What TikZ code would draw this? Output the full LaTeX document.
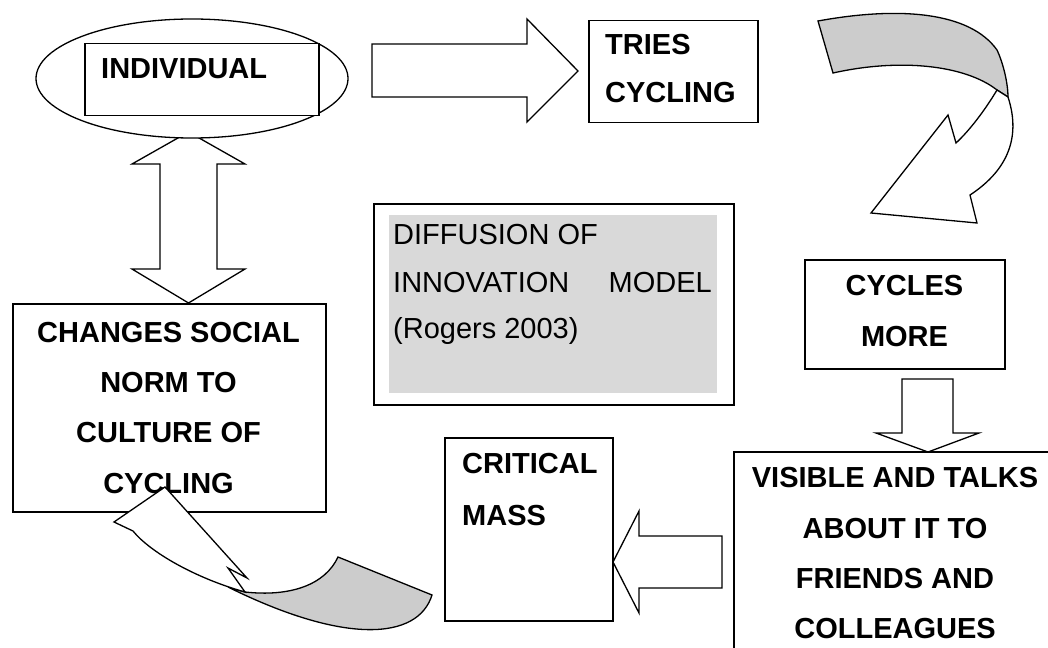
\documentclass[tikz,border=0pt]{standalone}
\usepackage{fontspec}
\setmainfont{Liberation Sans}
\usetikzlibrary{shapes.geometric}
\definecolor{bandgray}{HTML}{CCCCCC}
\definecolor{panelgray}{HTML}{D9D9D9}
\tikzset{
  outl/.style={draw=black, line width=1.5pt, line join=miter},
  box/.style={outl, fill=white, rectangle, inner sep=0pt, anchor=north west},
  blockarrow/.style={draw=black, line width=1.3pt, line join=miter, fill=white},
  band/.style={draw=black, line width=1.3pt, line join=miter, fill=bandgray},
  bt/.style={inner sep=0pt, font=\fontsize{29}{29}\selectfont\bfseries},
  rt/.style={inner sep=0pt, font=\fontsize{29}{29}\selectfont},
}
\begin{document}
\begin{tikzpicture}[x=1pt,y=-1pt]
\useasboundingbox (0,0) rectangle (1048,647);

% double vertical arrow (under the ellipse)
\draw[blockarrow] (188.5,132) -- (245,164) -- (217,164) -- (217,269) -- (245,269)
  -- (188.5,303) -- (132,269) -- (160,269) -- (160,164) -- (132,164) -- cycle;

% ellipse with INDIVIDUAL box
\node[draw=black, line width=1.3pt, fill=white, ellipse, minimum width=312pt, minimum height=119pt, inner sep=0pt] (ell) at (192,78.5) {};
\node[box, minimum width=234pt, minimum height=72pt] (indiv) at (84,43) {};
\node[bt, anchor=base west] (tindiv) at (101,79) {INDIVIDUAL};

% right block arrow
\draw[blockarrow] (372,44) -- (527,44) -- (527,19) -- (578,71) -- (527,122) -- (527,97) -- (372,97) -- cycle;

% TRIES CYCLING
\node[box, minimum width=169pt, minimum height=102pt] (tries) at (588,20) {};
\node[bt, anchor=base west] (ttries1) at (605,55) {TRIES};
\node[bt, anchor=base west] (ttries2) at (605,103) {CYCLING};

% top-right curved arrow: gray band
\draw[band] (818,21) .. controls (900,6) and (970,12) .. (997,50)
  .. controls (1004,65) and (1008,85) .. (1008,97)
  -- (997,90) .. controls (965,65) and (900,58) .. (833,73) -- cycle;
% top-right curved arrow: white body and head
\draw[blockarrow] (997,90) .. controls (985,110) and (970,130) .. (956,143)
  -- (948,115) -- (871,213) -- (977,223) -- (970,195)
  .. controls (1005,172) and (1022,140) .. (1008,97) -- cycle;

% diffusion panel
\node[box, minimum width=360pt, minimum height=201pt] (diff) at (373,203) {};
\fill[panelgray] (389,215) rectangle (717,393);
\node[rt, anchor=base west] (td1) at (393,244) {DIFFUSION OF};
\node[rt, anchor=base west] (td2) at (393,292) {INNOVATION};
\node[rt, anchor=base east] (td3) at (712,292) {MODEL};
\node[rt, anchor=base west] (td4) at (393,338) {(Rogers 2003)};

% CYCLES MORE
\node[box, minimum width=200pt, minimum height=109pt] (cycles) at (804,259) {};
\node[bt, anchor=base] (tcy1) at (904.5,295) {CYCLES};
\node[bt, anchor=base] (tcy2) at (904.5,346) {MORE};

% down block arrow
\draw[blockarrow] (902,379) -- (953,379) -- (953,433) -- (979,433) -- (928,452)
  -- (876,433) -- (902,433) -- cycle;

% VISIBLE box (runs off the page)
\node[box, minimum width=340pt, minimum height=240pt] (visible) at (733,451) {};
\node[bt, anchor=base] (tv1) at (895,487) {VISIBLE AND TALKS};
\node[bt, anchor=base] (tv2) at (895,538) {ABOUT IT TO};
\node[bt, anchor=base] (tv3) at (895,588) {FRIENDS AND};
\node[bt, anchor=base] (tv4) at (895,638) {COLLEAGUES};

% left block arrow
\draw[blockarrow] (722,536) -- (722,588) -- (639,588) -- (639,613) -- (613,562)
  -- (639,511) -- (639,536) -- cycle;

% CRITICAL MASS
\node[box, minimum width=168pt, minimum height=183pt] (critical) at (444,437) {};
\node[bt, anchor=base west] (tcr1) at (462,473) {CRITICAL};
\node[bt, anchor=base west] (tcr2) at (462,525) {MASS};

% CHANGES box
\node[box, minimum width=313pt, minimum height=208pt] (changes) at (12,303) {};
\node[bt, anchor=base] (tch1) at (168.5,342) {CHANGES SOCIAL};
\node[bt, anchor=base] (tch2) at (168.5,392) {NORM TO};
\node[bt, anchor=base] (tch3) at (168.5,442) {CULTURE OF};
\node[bt, anchor=base] (tch4) at (168.5,493) {CYCLING};

% bottom-left curved arrow: gray band
\draw[band] (245,592) .. controls (290,597) and (325,585) .. (338,557)
  -- (432,595) .. controls (418,640) and (345,645) .. (228,587) -- cycle;
% bottom-left curved arrow: white body and head
\draw[blockarrow] (165,487) -- (114,522) -- (133,531)
  .. controls (150,552) and (195,578) .. (245,592)
  -- (228,568) -- (247,578) -- cycle;
\end{tikzpicture}
\end{document}
